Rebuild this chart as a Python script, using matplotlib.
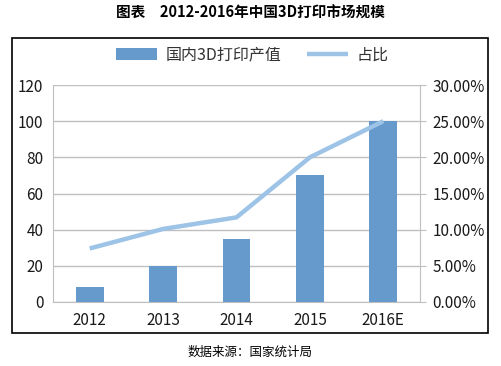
import matplotlib
matplotlib.use("Agg")
import matplotlib.pyplot as plt
from matplotlib.patches import Rectangle
from matplotlib.ticker import FuncFormatter

plt.rcParams['font.family'] = ['Noto Sans CJK SC', 'DejaVu Sans']

categories = ['2012', '2013', '2014', '2015', '2016E']
output_values = [8.5, 20, 35, 70, 100]
share_values = [0.074, 0.101, 0.117, 0.200, 0.250]
left_ticks = [0, 20, 40, 60, 80, 100, 120]
right_ticks = [0, 0.05, 0.10, 0.15, 0.20, 0.25, 0.30]

W, H = 501, 366
fig = plt.figure(figsize=(W/100, H/100), dpi=100)

# outer frame
fig.patches.append(Rectangle((12/W, 1-333/H), (488-12)/W, (333-38)/H,
                             transform=fig.transFigure, fill=False,
                             edgecolor='black', linewidth=1.2))

ax = fig.add_axes([53/W, 1-302/H, (420-53)/W, (302-85)/H])
x = range(len(categories))
bars = ax.bar(x, output_values, width=0.38, color='#6699CC', label='国内3D打印产值', zorder=3)
ax.set_ylim(0, 120)
ax.set_xlim(-0.5, 4.5)
ax.set_yticks(left_ticks)
ax.set_xticks(list(x))
ax.set_xticklabels(categories)
ax.grid(axis='y', color='#BFBFBF', linewidth=1, zorder=0)
for s in ['top', 'right']:
    ax.spines[s].set_visible(False)
for s in ['left', 'bottom']:
    ax.spines[s].set_color('#BFBFBF')
ax.tick_params(axis='both', length=0, labelsize=11, colors='#1a1a1a', pad=7)

ax2 = ax.twinx()
line, = ax2.plot(x, share_values, color='#9DC3E6', linewidth=3.2, label='占比', zorder=4,
                 solid_capstyle='butt')
ax2.set_ylim(0, 0.30)
ax2.set_yticks(right_ticks)
ax2.yaxis.set_major_formatter(FuncFormatter(lambda v, p: f'{v*100:.2f}%'))
for s in ['top', 'left', 'bottom']:
    ax2.spines[s].set_visible(False)
ax2.spines['right'].set_color('#BFBFBF')
ax2.tick_params(axis='y', length=4, color='#BFBFBF', labelsize=11, labelcolor='#1a1a1a', pad=5)

leg = fig.legend(handles=[bars, line], labels=['国内3D打印产值', '占比'],
                 loc='center', bbox_to_anchor=(252/W, 1-55/H), ncol=2, frameon=False,
                 fontsize=11.5, handlelength=2.6, columnspacing=1.6, handletextpad=0.5)
for t in leg.get_texts():
    t.set_color('#333333')

fig.text(250/W, 1-13/H, '图表　2012-2016年中国3D打印市场规模', ha='center', va='center',
         fontsize=10.5, fontweight='bold', color='black')
fig.text(250/W, 1-352/H, '数据来源：国家统计局', ha='center', va='center',
         fontsize=9, color='black')

fig.savefig('out.png', dpi=100)
